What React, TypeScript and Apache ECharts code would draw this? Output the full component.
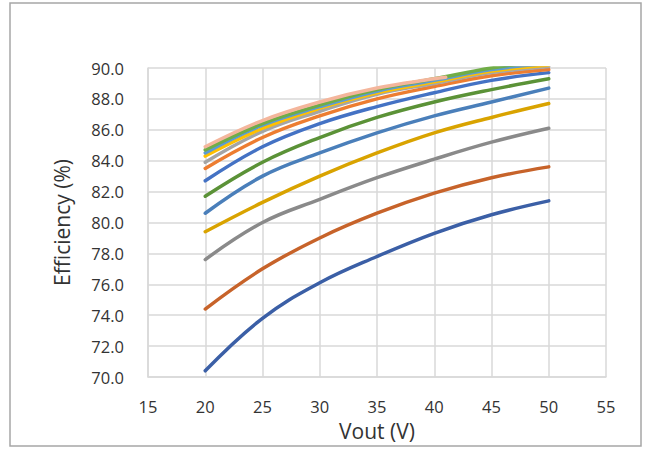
import React, { useEffect, useRef } from "react";
import * as echarts from "echarts";

const vout = [20, 25, 30, 35, 40, 45, 50];
const voutShort = [20, 25, 30, 35, 40, 41];

const s1 = [70.4, 73.8, 76.1, 77.8, 79.3, 80.5, 81.4];
const s2 = [74.4, 77.0, 79.0, 80.6, 81.9, 82.9, 83.6];
const s3 = [77.6, 80.0, 81.5, 82.9, 84.1, 85.2, 86.1];
const s4 = [79.4, 81.3, 83.0, 84.5, 85.8, 86.8, 87.7];
const s5 = [80.6, 83.0, 84.5, 85.8, 86.9, 87.8, 88.7];
const s6 = [81.7, 83.9, 85.5, 86.8, 87.8, 88.6, 89.3];
const s7 = [82.7, 84.9, 86.4, 87.5, 88.4, 89.2, 89.7];
const s8 = [83.5, 85.5, 86.9, 88.0, 88.8, 89.5, 89.9];
const s9 = [83.9, 85.9, 87.2, 88.3, 89.0, 89.7, 90.1];
const s10 = [84.3, 86.1, 87.4, 88.4, 89.1, 89.8, 90.2];
const s11 = [84.5, 86.3, 87.5, 88.5, 89.2, 89.9, 90.3];
const s12 = [84.7, 86.4, 87.6, 88.6, 89.3, 90.0, 90.5];
const s13 = [84.9, 86.6, 87.8, 88.7, 89.3, 89.4];

const colors = [
  "#3B5FA6", "#C7632A", "#8A8A8A", "#D9A300", "#4A7FBA", "#5B9237",
  "#4472C4", "#ED7D31", "#A5A5A5", "#FFC000", "#5B9BD5", "#70AD47", "#F4B69C",
];

const seriesValues = [s1, s2, s3, s4, s5, s6, s7, s8, s9, s10, s11, s12, s13];

export default function App() {
  const ref = useRef<HTMLDivElement>(null);
  useEffect(() => {
    if (!ref.current) return;
    const chart = echarts.init(ref.current, null, { renderer: "svg" });
    const font = "'Open Sans', sans-serif";
    chart.setOption({
      animation: false,
      backgroundColor: "#ffffff",
      graphic: [
        {
          type: "rect",
          shape: { x: 10, y: 3, width: 631, height: 443 },
          style: { fill: "none", stroke: "#a6a6a6", lineWidth: 1.5 },
          silent: true,
        },
      ],
      grid: { left: 148, right: 45, top: 68, bottom: 73, containLabel: false },
      xAxis: {
        type: "value",
        min: 15,
        max: 55,
        interval: 5,
        name: "Vout (V)",
        nameLocation: "middle",
        nameGap: 43,
        nameTextStyle: { fontSize: 21, color: "#333333", fontFamily: font },
        axisLine: { show: true, lineStyle: { color: "#d9d9d9", width: 1.5 } },
        axisTick: { show: false },
        axisLabel: { fontSize: 16.5, color: "#333333", fontFamily: font, margin: 21 },
        splitLine: { show: true, lineStyle: { color: "#d9d9d9", width: 1.5 } },
      },
      yAxis: {
        type: "value",
        min: 70,
        max: 90,
        interval: 2,
        name: "Efficiency (%)",
        nameLocation: "middle",
        nameGap: 76,
        nameRotate: 90,
        nameTextStyle: { fontSize: 21, color: "#333333", fontFamily: font },
        axisLine: { show: true, lineStyle: { color: "#d9d9d9", width: 1.5 } },
        axisTick: { show: false },
        axisLabel: {
          fontSize: 16.5,
          color: "#333333",
          fontFamily: font,
          margin: 24,
          formatter: (v: number) => v.toFixed(1),
        },
        splitLine: { show: true, lineStyle: { color: "#d9d9d9", width: 1.5 } },
      },
      series: seriesValues.map((vals, i) => {
        const xs = vals.length === vout.length ? vout : voutShort;
        return {
          type: "line",
          smooth: 0.4,
          symbol: "none",
          clip: true,
          data: vals.map((v, j) => [xs[j], v]),
          lineStyle: { color: colors[i], width: 3.5, cap: "round" },
          itemStyle: { color: colors[i] },
        };
      }),
    });
    return () => chart.dispose();
  }, []);
  return (
    <div
      ref={ref}
      style={{ position: "fixed", left: 0, top: 0, width: 651, height: 450 }}
    />
  );
}
